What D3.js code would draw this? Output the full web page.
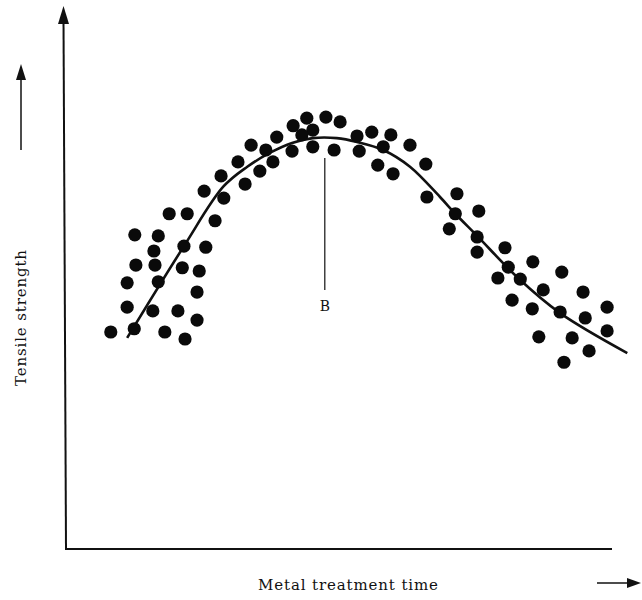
<!DOCTYPE html>
<html>
<head>
<meta charset="utf-8">
<script src="https://cdn.jsdelivr.net/npm/d3@7"></script>
<style>
  body { margin: 0; background: #fff; }
  svg { display: block; }
  text { font-family: "DejaVu Serif", "Liberation Serif", serif; fill: #111; }
</style>
</head>
<body>
<svg id="chart" width="642" height="600"></svg>
<script>
// values (arbitrary units 0-100 on both axes)
var dotTime = [8.2, 12.5, 18.1, 21.8, 11.2, 15.9, 20.5, 24.0, 11.2, 16.9, 24.0, 12.8, 16.3, 21.3, 24.4,
    16.1, 21.6, 25.6, 12.6, 16.9, 18.9, 22.2, 27.3, 25.3, 28.9, 28.4, 32.8, 31.5, 33.9, 36.6,
    35.5, 37.9, 38.6, 41.6, 44.1, 47.6, 50.2, 45.2, 43.2, 41.4, 45.2, 49.1, 53.3, 56.0, 59.5,
    53.7, 58.1, 63.0, 57.1, 59.9, 65.9, 66.1, 71.6, 71.3, 75.6, 70.2, 75.3, 75.3, 80.4, 81.0,
    79.1, 83.2, 85.5, 87.4, 90.8, 81.7, 85.4, 90.5, 94.7, 99.1, 95.1, 99.1, 86.6, 92.7, 95.8, 91.2];
var dotStrength = [40.0, 40.6, 40.0, 38.7, 44.6, 43.9, 43.9, 42.2, 49.1, 49.3, 47.4, 52.4, 52.4, 51.9, 51.3,
    55.0, 55.9, 55.7, 58.0, 57.8, 61.9, 61.9, 60.6, 66.1, 64.8, 68.9, 67.4, 71.5, 74.6, 73.7,
    69.8, 71.5, 76.1, 78.2, 79.6, 79.8, 78.9, 77.4, 76.5, 73.5, 74.3, 73.7, 76.3, 77.0, 76.5,
    73.5, 74.3, 74.6, 70.9, 69.3, 71.1, 65.0, 65.6, 61.9, 62.4, 59.1, 57.6, 54.8, 55.6, 52.0,
    50.0, 49.8, 53.0, 47.8, 51.1, 45.9, 44.3, 43.7, 47.4, 44.6, 42.6, 40.2, 39.1, 38.9, 36.5, 34.4];

var curveTime = [11.2, 21.6, 28.8, 33.2, 37.4, 41.4, 45.2, 49.6, 53.3, 58.1, 63.0, 68.5, 71.3, 75.3, 82.8, 90.5, 102.8];
var curveStrength = [38.9, 55.9, 66.9, 70.6, 73.2, 75.0, 75.9, 75.9, 75.2, 73.7, 70.6, 65.0, 61.9, 57.8, 50.0, 43.5, 36.1];

var markerB = {time: 47.4, top: 72.2, bottom: 47.8, label: "B", labelAt: 44.8};

var svg = d3.select("#chart");
var plotLeft = 66, plotRight = 612, plotTop = 8, plotBottom = 548;

var x = d3.scaleLinear().domain([0, 100]).range([plotLeft, plotRight]);
var y = d3.scaleLinear().domain([0, 100]).range([plotBottom, plotTop]);

// axes: plain lines with arrow heads, no ticks
svg.append("line")
    .attr("x1", x(0) - 2.5).attr("y1", plotTop + 12)
    .attr("x2", x(0)).attr("y2", plotBottom + 1)
    .attr("stroke", "#111").attr("stroke-width", 2);
svg.append("path")
    .attr("d", "M" + (x(0) - 2.5) + "," + (plotTop - 2) + " l-5.5,18 l11,0 z")
    .attr("fill", "#111");
svg.append("line")
    .attr("x1", x(0) - 1).attr("y1", plotBottom + 1)
    .attr("x2", x(100)).attr("y2", plotBottom + 1)
    .attr("stroke", "#111").attr("stroke-width", 2);

// small direction arrows beside the axis titles
svg.append("line")
    .attr("x1", 21).attr("y1", 150).attr("x2", 21).attr("y2", 80)
    .attr("stroke", "#111").attr("stroke-width", 1.5);
svg.append("path")
    .attr("d", "M21,64 l-5,16 l10,0 z")
    .attr("fill", "#111");

svg.append("line")
    .attr("x1", 597).attr("y1", 583).attr("x2", 628).attr("y2", 583)
    .attr("stroke", "#111").attr("stroke-width", 1.5);
svg.append("path")
    .attr("d", "M641,583 l-14,-5 l0,10 z")
    .attr("fill", "#111");

svg.append("text")
    .attr("x", 258).attr("y", 590)
    .attr("font-size", 15)
    .attr("textLength", 180)
    .text("Metal treatment time");

svg.append("text")
    .attr("transform", "translate(26,386) rotate(-90)")
    .attr("font-size", 15)
    .attr("textLength", 136)
    .text("Tensile strength");

// fitted curve
var pts = curveTime.map(function (t, i) { return [t, curveStrength[i]]; });
var line = d3.line()
    .x(function (d) { return x(d[0]); })
    .y(function (d) { return y(d[1]); })
    .curve(d3.curveCatmullRom);
svg.append("path")
    .attr("d", line(pts))
    .attr("fill", "none")
    .attr("stroke", "#111")
    .attr("stroke-width", 2.6);

// observations
svg.selectAll("circle.dot")
    .data(dotTime)
    .enter()
    .append("circle")
    .attr("class", "dot")
    .attr("cx", function (d) { return x(d); })
    .attr("cy", function (d, i) { return y(dotStrength[i]); })
    .attr("r", 6.6)
    .attr("fill", "#0a0a0a");

// peak marker
svg.append("line")
    .attr("x1", x(markerB.time)).attr("y1", y(markerB.top))
    .attr("x2", x(markerB.time)).attr("y2", y(markerB.bottom))
    .attr("stroke", "#111").attr("stroke-width", 1.2);
svg.append("text")
    .attr("x", x(markerB.time)).attr("y", y(markerB.labelAt) + 5)
    .attr("text-anchor", "middle")
    .attr("font-size", 14)
    .text(markerB.label);
</script>
</body>
</html>
